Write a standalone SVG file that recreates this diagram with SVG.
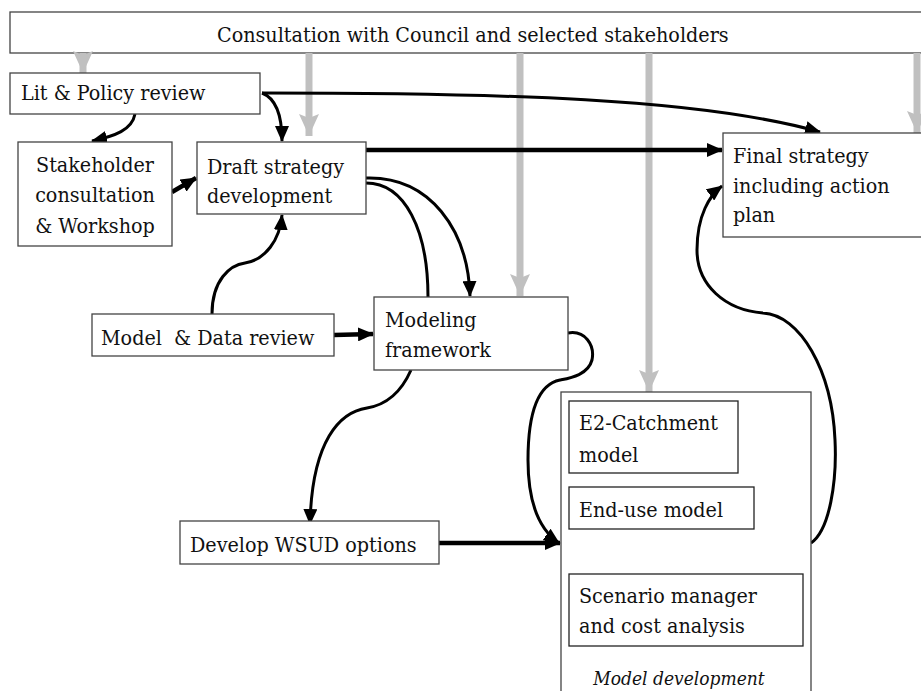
<svg xmlns="http://www.w3.org/2000/svg" width="921" height="691" viewBox="0 0 921 691">
<style>
text{font-family:'DejaVu Serif Condensed','DejaVu Serif',serif;font-size:21.3px;fill:#111}
.box{fill:#fff;stroke:#444;stroke-width:1.3}
.ibox{fill:#fff;stroke:#222;stroke-width:1.3}
.c{fill:none;stroke:#000;stroke-width:3}
.t{fill:none;stroke:#000;stroke-width:4.5}
.g{fill:none;stroke:#c0c0c0;stroke-width:7}
.it{font-style:italic;font-size:19px}
</style>
<defs>
<marker id="ah" markerUnits="userSpaceOnUse" markerWidth="16" markerHeight="14" refX="15" refY="7" orient="auto" viewBox="0 0 16 14">
<path d="M0,0 L16,7 L0,14 z" fill="#000"/>
</marker>
<marker id="gh" markerUnits="userSpaceOnUse" markerWidth="22" markerHeight="20" refX="22" refY="10" orient="auto" viewBox="0 0 22 20">
<path d="M0,0 L4,10 L0,20 L22,10 z" fill="#c0c0c0"/>
</marker>
</defs>

<g id="consultation">
<rect class="box" x="10" y="12" width="930" height="41"/>
<text x="217" y="42">Consultation with Council and selected stakeholders</text>
</g>

<g id="connectors">
<path class="g" d="M83,53 L83,73" marker-end="url(#gh)"/>
<path class="g" d="M309,53 L309,136" marker-end="url(#gh)"/>
<path class="g" d="M520,53 L520,296" marker-end="url(#gh)"/>
<path class="g" d="M649,53 L649,392" marker-end="url(#gh)"/>
<path class="g" d="M917,53 L917,133" marker-end="url(#gh)"/>

<path class="c" d="M262,93 C500,93 700,98 820,132" marker-end="url(#ah)"/>
<path class="c" d="M262,93 C275,98 282,115 282,141" marker-end="url(#ah)"/>
<path class="c" d="M135,114 C132,130 115,136 92,141" marker-end="url(#ah)"/>
<path class="t" d="M172,192 L196,178" marker-end="url(#ah)"/>
<path class="t" d="M366,150 L722,150" marker-end="url(#ah)"/>
<path class="c" d="M366,178 C430,176 468,230 470,296" marker-end="url(#ah)"/>
<path class="c" d="M366,183 C405,183 428,230 428,297"/>
<path class="c" d="M212,314 C212,280 230,265 245,263 C265,260 280,240 282,215" marker-end="url(#ah)"/>
<path class="t" d="M334,335 L373,334" marker-end="url(#ah)"/>
<path class="c" d="M411,370 C400,395 385,405 367,408 C340,412 312,440 310,524" marker-end="url(#ah)"/>
<path class="t" d="M439,543 L560,543" marker-end="url(#ah)"/>
<path class="c" d="M568,333 C585,330 595,345 592,360 C588,375 570,378 560,380 C535,385 528,420 528,460 C528,505 540,530 559,543" marker-end="url(#ah)"/>
<path class="c" d="M811,543 C830,530 837,480 835,440 C832,370 800,315 763,313 C725,310 697,285 697,250 C697,215 710,195 722,186" marker-end="url(#ah)"/>
</g>

<g id="lit">
<rect class="box" x="10" y="73" width="250" height="41"/>
<text x="21" y="100">Lit &amp; Policy review</text>
</g>

<g id="stakeholder">
<rect class="box" x="18" y="142" width="154" height="104"/>
<text x="95" y="172" text-anchor="middle">Stakeholder</text>
<text x="95" y="202" text-anchor="middle">consultation</text>
<text x="95" y="233" text-anchor="middle">&amp; Workshop</text>
</g>

<g id="draft">
<rect class="box" x="197" y="142" width="169" height="72"/>
<text x="207" y="174">Draft strategy</text>
<text x="207" y="203">development</text>
</g>

<g id="final">
<rect class="box" x="723" y="133" width="220" height="104"/>
<text x="733" y="163">Final strategy</text>
<text x="733" y="193">including action</text>
<text x="733" y="222">plan</text>
</g>

<g id="modeldata">
<rect class="box" x="92" y="314" width="242" height="42"/>
<text x="101" y="345" xml:space="preserve">Model  &amp; Data review</text>
</g>

<g id="modeling">
<rect class="box" x="374" y="297" width="194" height="73"/>
<text x="385" y="327">Modeling</text>
<text x="385" y="357">framework</text>
</g>

<g id="wsud">
<rect class="box" x="180" y="521" width="259" height="43"/>
<text x="190" y="552">Develop WSUD options</text>
</g>

<g id="modeldev">
<rect class="box" x="561" y="392" width="250" height="320"/>
<text class="it" x="679" y="685" text-anchor="middle">Model development</text>
</g>

<g id="e2">
<rect class="ibox" x="569" y="401" width="169" height="72"/>
<text x="579" y="430">E2-Catchment</text>
<text x="579" y="462">model</text>
</g>

<g id="enduse">
<rect class="ibox" x="569" y="487" width="185" height="42"/>
<text x="579" y="517">End-use model</text>
</g>

<g id="scenario">
<rect class="ibox" x="569" y="574" width="234" height="72"/>
<text x="579" y="603">Scenario manager</text>
<text x="579" y="633">and cost analysis</text>
</g>
</svg>
